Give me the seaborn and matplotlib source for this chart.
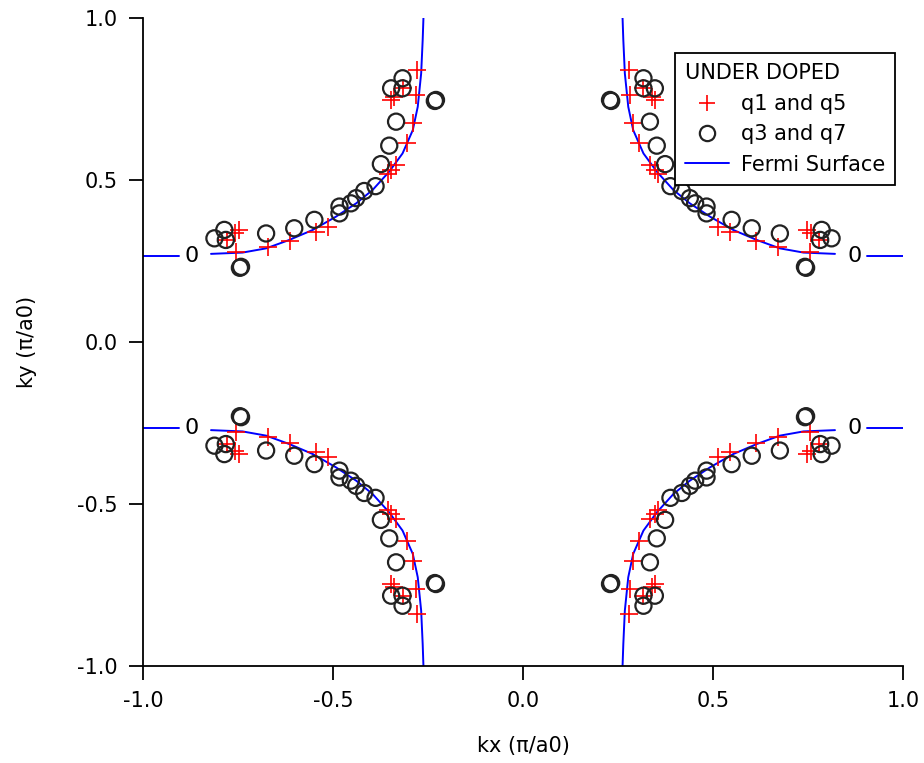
import numpy as np
import pandas as pd
import matplotlib
matplotlib.use("Agg")
import matplotlib.pyplot as plt
from matplotlib.lines import Line2D
import seaborn as sns

# ---- data (upper-right quadrant; other quadrants are mirror images) ----
P_KX = [0.278, 0.317, 0.282, 0.339, 0.347, 0.290, 0.305, 0.334, 0.347, 0.355,
        0.512, 0.545, 0.612, 0.671, 0.747, 0.758, 0.779, 0.755]
P_KY = [0.838, 0.783, 0.762, 0.757, 0.747, 0.675, 0.613, 0.546, 0.531, 0.519,
        0.356, 0.340, 0.313, 0.292, 0.346, 0.335, 0.315, 0.279]

C_KX = [0.317, 0.317, 0.347, 0.229, 0.232, 0.334, 0.352, 0.374, 0.388, 0.418,
        0.439, 0.453, 0.483, 0.483, 0.549, 0.602, 0.676, 0.786, 0.812, 0.782,
        0.742, 0.745]
C_KY = [0.814, 0.783, 0.783, 0.747, 0.744, 0.680, 0.606, 0.549, 0.481, 0.466,
        0.444, 0.428, 0.418, 0.397, 0.377, 0.351, 0.335, 0.346, 0.320, 0.315,
        0.232, 0.229]

F_KX = [0.262, 0.264, 0.268, 0.277, 0.290, 0.317, 0.352, 0.396, 0.439, 0.492,
        0.553, 0.615, 0.676, 0.738, 0.821]
F_KY = [1.000, 0.932, 0.829, 0.726, 0.654, 0.582, 0.526, 0.469, 0.428, 0.387,
        0.346, 0.315, 0.289, 0.276, 0.272]

STUB_KX = [0.905, 1.0]
STUB_KY = [0.265, 0.265]
ZERO_KX = 0.873
ZERO_KY = 0.264

QUADRANTS = [(1, 1), (-1, 1), (-1, -1), (1, -1)]

sns.set_style("ticks")
plt.rcParams['font.family'] = ['DejaVu Sans']
plt.rcParams['text.color'] = 'black'
plt.rcParams['axes.labelcolor'] = 'black'
plt.rcParams['xtick.color'] = 'black'
plt.rcParams['ytick.color'] = 'black'

fig = plt.figure(figsize=(9.24, 7.63), dpi=100)
ax = fig.add_axes([143 / 924, 1 - 666 / 763, 760 / 924, 648 / 763])

fs = 15

for qi, (sx, sy) in enumerate(QUADRANTS):
    fdf = pd.DataFrame({"kx": np.array(F_KX) * sx, "ky": np.array(F_KY) * sy})
    sns.lineplot(data=fdf, x="kx", y="ky", sort=False, estimator=None,
                 color="#0000ff", lw=1.4, ax=ax, legend=False)
    sdf = pd.DataFrame({"kx": np.array(STUB_KX) * sx, "ky": np.array(STUB_KY) * sy})
    sns.lineplot(data=sdf, x="kx", y="ky", sort=False, estimator=None,
                 color="#0000ff", lw=1.4, ax=ax, legend=False)
    ax.text(ZERO_KX * sx, ZERO_KY * sy, "0", ha="center", va="center",
            fontsize=16, color="black")

    pdf = pd.DataFrame({"kx": np.array(P_KX) * sx, "ky": np.array(P_KY) * sy})
    sns.scatterplot(data=pdf, x="kx", y="ky", marker="+", s=160, color="red",
                    linewidth=1.2, ax=ax, legend=False, zorder=3)
    cdf = pd.DataFrame({"kx": np.array(C_KX) * sx, "ky": np.array(C_KY) * sy})
    sns.scatterplot(data=cdf, x="kx", y="ky", marker="o", s=135,
                    facecolors="none", edgecolor="#222222", linewidth=1.6,
                    ax=ax, legend=False, zorder=4)

ax.set_xlim(-1, 1)
ax.set_ylim(-1, 1)
ax.set_xticks([-1.0, -0.5, 0.0, 0.5, 1.0])
ax.set_yticks([-1.0, -0.5, 0.0, 0.5, 1.0])
ax.set_xticklabels(["-1.0", "-0.5", "0.0", "0.5", "1.0"])
ax.set_yticklabels(["-1.0", "-0.5", "0.0", "0.5", "1.0"])
ax.tick_params(direction="out", length=10, width=1.3, labelsize=fs, pad=8,
               color="black", labelcolor="black")
for s in ["top", "right"]:
    ax.spines[s].set_visible(False)
for s in ["left", "bottom"]:
    ax.spines[s].set_linewidth(1.3)
    ax.spines[s].set_color("black")
ax.set_xlabel("kx (π/a0)", fontsize=fs, labelpad=18, color="black")
ax.set_ylabel("ky (π/a0)", fontsize=fs, labelpad=29, color="black")

handles = [
    Line2D([], [], ls="none", marker="+", ms=12, mew=1.2, color="red"),
    Line2D([], [], ls="none", marker="o", ms=11, mew=1.6, mfc="none", mec="#222222"),
    Line2D([], [], color="#0000ff", lw=1.4),
]
labels = ["q1 and q5", "q3 and q7", "Fermi Surface"]
leg = ax.legend(handles, labels, title="UNDER DOPED", loc="upper left",
                bbox_to_anchor=(0.7, 0.946), fontsize=fs, title_fontsize=fs,
                frameon=True, fancybox=False, framealpha=1, edgecolor="black",
                borderpad=0.5, labelspacing=0.5, handlelength=2.1,
                handletextpad=0.55, borderaxespad=0, alignment="left")
leg.get_frame().set_linewidth(1.3)
for t in leg.get_texts():
    t.set_color("black")
leg.get_title().set_color("black")

fig.savefig("out.png", dpi=100)
